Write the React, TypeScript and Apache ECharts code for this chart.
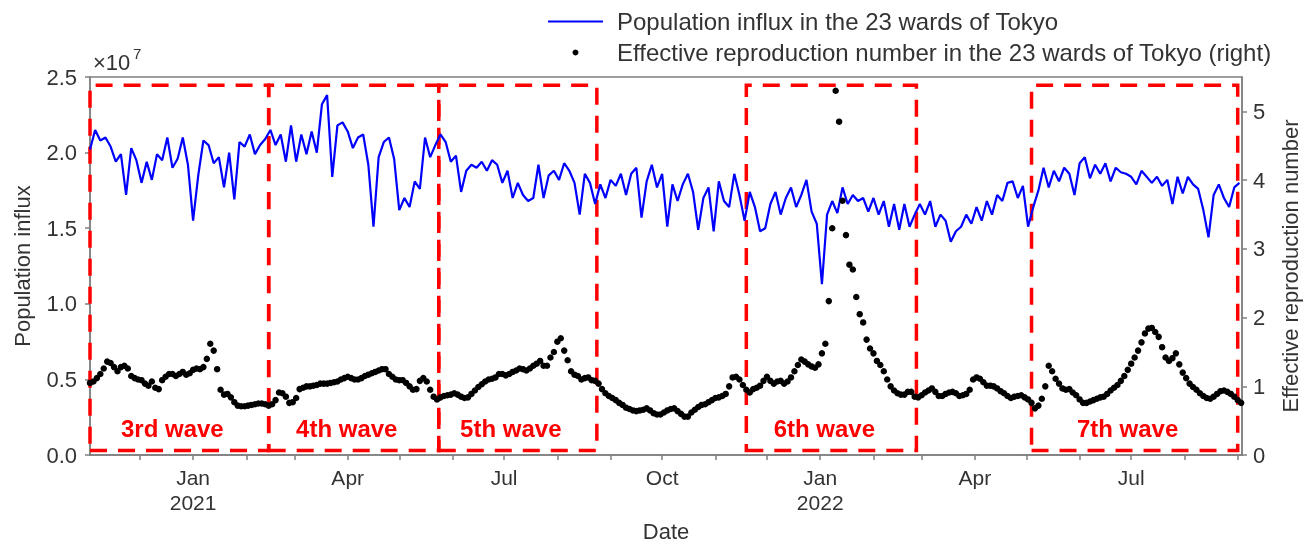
import React, { useEffect, useRef } from 'react';
import * as echarts from 'echarts';

const DAY = 86400000;
const utc = (s: string) => {
  const [y, m, d] = s.split('-').map(Number);
  return Date.UTC(y, m - 1, d);
};

// x-axis extent and series start
const AXIS_MIN = '2020-11-02';
const AXIS_MAX = '2022-09-03';
const SERIES_START = '2020-11-02';
const INFLUX_STEP_DAYS = 3;
const RT_STEP_DAYS = 2;

const influxName = 'Population influx in the 23 wards of Tokyo';
const rtName = 'Effective reproduction number in the 23 wards of Tokyo (right)';

// Population influx (x10^7), one value every 3 days
const influx = [
  2.02, 2.15, 2.08, 2.10, 2.04, 1.94, 1.99, 1.72, 2.03, 1.95,
  1.80, 1.94, 1.82, 1.99, 1.95, 2.10, 1.90, 1.96, 2.10, 1.92,
  1.55, 1.85, 2.08, 2.05, 1.93, 1.97, 1.77, 2.00, 1.69, 2.07,
  2.04, 2.12, 1.99, 2.05, 2.09, 2.15, 2.05, 2.12, 1.94, 2.18,
  1.94, 2.12, 1.99, 2.14, 2.00, 2.32, 2.38, 1.84, 2.18, 2.20,
  2.14, 2.03, 2.10, 2.12, 1.92, 1.51, 1.97, 2.07, 2.10, 1.96,
  1.62, 1.70, 1.64, 1.81, 1.76, 2.10, 1.97, 2.05, 2.12, 2.07,
  1.94, 1.98, 1.74, 1.88, 1.92, 1.90, 1.94, 1.88, 1.95, 1.92,
  1.80, 1.88, 1.70, 1.80, 1.72, 1.68, 1.70, 1.92, 1.70, 1.85,
  1.88, 1.82, 1.93, 1.88, 1.80, 1.59, 1.86, 1.80, 1.66, 1.79,
  1.70, 1.82, 1.78, 1.86, 1.72, 1.86, 1.90, 1.57, 1.81, 1.92,
  1.77, 1.86, 1.51, 1.79, 1.68, 1.79, 1.86, 1.74, 1.49, 1.70,
  1.77, 1.48, 1.81, 1.68, 1.64, 1.86, 1.72, 1.55, 1.74, 1.64,
  1.48, 1.50, 1.66, 1.74, 1.59, 1.70, 1.77, 1.64, 1.72, 1.82,
  1.61, 1.53, 1.13, 1.59, 1.68, 1.60, 1.77, 1.66, 1.72, 1.68,
  1.70, 1.61, 1.70, 1.59, 1.68, 1.51, 1.66, 1.49, 1.66, 1.51,
  1.59, 1.66, 1.59, 1.68, 1.51, 1.59, 1.55, 1.41, 1.48, 1.51,
  1.59, 1.53, 1.64, 1.55, 1.68, 1.59, 1.72, 1.68, 1.80, 1.81,
  1.70, 1.78, 1.51, 1.64, 1.75, 1.90, 1.77, 1.88, 1.81, 1.90,
  1.86, 1.72, 1.93, 1.97, 1.83, 1.92, 1.86, 1.93, 1.81, 1.90,
  1.87, 1.86, 1.84, 1.79, 1.88, 1.84, 1.80, 1.84, 1.78, 1.82,
  1.66, 1.84, 1.73, 1.84, 1.79, 1.76, 1.62, 1.44, 1.72, 1.79,
  1.70, 1.64, 1.77, 1.80,
];

// Effective reproduction number, one value every 2 days
const rt = [
  1.05, 1.07, 1.12, 1.18, 1.26, 1.36, 1.34, 1.28, 1.22, 1.28,
  1.30, 1.26, 1.15, 1.12, 1.10, 1.09, 1.04, 1.01, 1.07, 0.98,
  0.96, 1.09, 1.14, 1.18, 1.18, 1.15, 1.18, 1.21, 1.17, 1.19,
  1.24, 1.26, 1.25, 1.28, 1.40, 1.62, 1.52, 1.25, 0.95, 0.88,
  0.89, 0.84, 0.77, 0.72, 0.71, 0.71, 0.72, 0.73, 0.74, 0.75,
  0.75, 0.74, 0.72, 0.74, 0.80, 0.91, 0.90, 0.85, 0.76, 0.77,
  0.83, 0.96, 0.98, 1.00, 1.00, 1.01, 1.02, 1.04, 1.04, 1.04,
  1.05, 1.06, 1.07, 1.10, 1.12, 1.14, 1.12, 1.10, 1.10, 1.12,
  1.15, 1.17, 1.19, 1.21, 1.23, 1.25, 1.25, 1.18, 1.14, 1.10,
  1.09, 1.09, 1.05, 1.00, 0.95, 0.96, 1.08, 1.12, 1.07, 0.95,
  0.85, 0.81, 0.84, 0.86, 0.87, 0.88, 0.90, 0.88, 0.85, 0.83,
  0.84, 0.89, 0.94, 0.99, 1.03, 1.07, 1.10, 1.11, 1.13, 1.18,
  1.18, 1.16, 1.18, 1.21, 1.23, 1.26, 1.25, 1.23, 1.26, 1.30,
  1.33, 1.37, 1.30, 1.30, 1.42, 1.50, 1.65, 1.70, 1.52, 1.38,
  1.22, 1.17, 1.15, 1.10, 1.12, 1.13, 1.09, 1.08, 1.04, 0.96,
  0.90, 0.86, 0.83, 0.80, 0.76, 0.73, 0.69, 0.67, 0.65, 0.64,
  0.65, 0.66, 0.68, 0.65, 0.61, 0.59, 0.59, 0.62, 0.65, 0.67,
  0.68, 0.64, 0.60, 0.56, 0.56, 0.62, 0.66, 0.70, 0.73, 0.74,
  0.77, 0.80, 0.83, 0.84, 0.86, 0.89, 1.00, 1.13, 1.14, 1.10,
  1.02, 0.95, 0.91, 0.96, 0.98, 1.01, 1.08, 1.14, 1.08, 1.04,
  1.07, 1.08, 1.04, 1.07, 1.13, 1.22, 1.31, 1.39, 1.36, 1.32,
  1.29, 1.27, 1.32, 1.48, 1.62, 2.24, 3.30, 5.30, 4.85, 3.70,
  3.20, 2.77, 2.70, 2.30, 2.05, 1.93, 1.68, 1.55, 1.48, 1.37,
  1.31, 1.22, 1.10, 1.00, 0.94, 0.90, 0.88, 0.88, 0.92, 0.92,
  0.85, 0.84, 0.87, 0.91, 0.94, 0.97, 0.92, 0.86, 0.86, 0.89,
  0.91, 0.92, 0.90, 0.86, 0.87, 0.89, 0.95, 1.10, 1.13, 1.11,
  1.06, 1.01, 1.01, 1.00, 0.97, 0.93, 0.90, 0.86, 0.83, 0.85,
  0.86, 0.87, 0.84, 0.81, 0.76, 0.68, 0.72, 0.82, 1.00, 1.30,
  1.22, 1.11, 1.04, 0.97, 0.95, 0.96, 0.91, 0.87, 0.81, 0.76,
  0.76, 0.78, 0.80, 0.82, 0.84, 0.85, 0.89, 0.94, 0.98, 1.02,
  1.08, 1.15, 1.24, 1.33, 1.42, 1.52, 1.64, 1.77, 1.84, 1.85,
  1.79, 1.72, 1.57, 1.42, 1.37, 1.41, 1.48, 1.32, 1.20, 1.12,
  1.04, 0.99, 0.95, 0.90, 0.86, 0.83, 0.82, 0.85, 0.89, 0.93,
  0.94, 0.92, 0.89, 0.85, 0.80, 0.76,
];

// wave periods (dashed boxes)
const waveNames = ['3rd wave', '4th wave', '5th wave', '6th wave', '7th wave'];
const waveStarts = ['2020-11-02', '2021-02-14', '2021-05-24', '2021-11-19', '2022-05-04'];
const waveEnds = ['2021-02-14', '2021-05-24', '2021-08-24', '2022-02-26', '2022-09-01'];
const waveBoxBottom = 0.03;
const waveBoxTop = 2.445;

// ticks
const monthTicks = [
  '2020-12-01', '2021-01-01', '2021-02-01', '2021-03-01', '2021-04-01', '2021-05-01',
  '2021-06-01', '2021-07-01', '2021-08-01', '2021-09-01', '2021-10-01', '2021-11-01',
  '2021-12-01', '2022-01-01', '2022-02-01', '2022-03-01', '2022-04-01', '2022-05-01',
  '2022-06-01', '2022-07-01', '2022-08-01', '2022-09-01',
];
const labelMonths = ['2021-01-01', '2021-04-01', '2021-07-01', '2021-10-01', '2022-01-01', '2022-04-01', '2022-07-01'];
const monthNames = ['Jan', 'Feb', 'Mar', 'Apr', 'May', 'Jun', 'Jul', 'Aug', 'Sep', 'Oct', 'Nov', 'Dec'];
const rightTicks = [0, 1, 2, 3, 4, 5];

const FONT = "'Liberation Sans', Arial, Helvetica, sans-serif";
const TEXT = '#333333';
const AXIS = '#7f7f7f';

export default function App() {
  const ref = useRef<HTMLDivElement>(null);
  useEffect(() => {
    if (!ref.current) return;
    const chart = echarts.init(ref.current, undefined, { renderer: 'svg' });
    const start = utc(SERIES_START);
    const influxData = influx.map((v, i) => [start + i * INFLUX_STEP_DAYS * DAY, v]);
    const rtData = rt.map((v, i) => [start + i * RT_STEP_DAYS * DAY, v]);
    const areas = waveNames.map((n, i) => [
      { name: n, xAxis: utc(waveStarts[i]), yAxis: waveBoxBottom },
      { xAxis: utc(waveEnds[i]), yAxis: waveBoxTop },
    ]);
    const axisLineStyle = { color: AXIS, width: 1.5 };
    chart.setOption({
      animation: false,
      textStyle: { fontFamily: FONT },
      grid: { left: 90, right: 67, top: 77, bottom: 90, show: true, borderColor: AXIS, borderWidth: 1.5 },
      legend: {
        orient: 'vertical',
        left: 548,
        top: 8,
        padding: 0,
        itemGap: 4,
        itemWidth: 55,
        itemHeight: 6,
        data: [
          { name: influxName, icon: 'path://M0,0 L55,0 L55,2.2 L0,2.2 Z', itemStyle: { color: '#0000ff' } },
          { name: rtName, icon: 'circle', itemStyle: { color: '#000000', opacity: 1 } },
        ],
        textStyle: { fontSize: 24, color: TEXT, lineHeight: 27, fontFamily: FONT, padding: [0, 0, 0, 9] },
      },
      graphic: [
        { type: 'text', left: 93, top: 51, style: { text: '×10', fontSize: 22, fill: TEXT, fontFamily: FONT } },
        { type: 'text', left: 133, top: 46, style: { text: '7', fontSize: 15, fill: TEXT, fontFamily: FONT } },
      ],
      xAxis: {
        type: 'value',
        min: utc(AXIS_MIN),
        max: utc(AXIS_MAX) + DAY / 2,
        name: 'Date',
        nameLocation: 'middle',
        nameGap: 55,
        nameTextStyle: { fontSize: 22, color: TEXT, fontFamily: FONT },
        axisLine: { show: true, onZero: false, lineStyle: axisLineStyle },
        axisTick: { show: true, length: 5, customValues: monthTicks.map(utc), lineStyle: axisLineStyle },
        axisLabel: {
          customValues: labelMonths.map(utc),
          formatter: (v: number) => {
            const d = new Date(v);
            const m = d.getUTCMonth();
            return m === 0 ? monthNames[m] + '\n' + d.getUTCFullYear() : monthNames[m];
          },
          fontSize: 21,
          lineHeight: 25,
          color: TEXT,
          margin: 10,
          fontFamily: FONT,
        },
        splitLine: { show: false },
      },
      yAxis: [
        {
          type: 'value',
          position: 'left',
          min: 0,
          max: 2.5,
          interval: 0.5,
          name: 'Population influx',
          nameLocation: 'middle',
          nameGap: 57,
          nameTextStyle: { fontSize: 22, color: TEXT, fontFamily: FONT },
          axisLine: { show: true, lineStyle: axisLineStyle },
          axisTick: { show: true, length: 5, lineStyle: axisLineStyle },
          axisLabel: { formatter: (v: number) => v.toFixed(1), fontSize: 22, color: TEXT, margin: 13, fontFamily: FONT },
          splitLine: { show: false },
        },
        {
          type: 'value',
          position: 'right',
          min: 0,
          max: 5.5,
          interval: 1,
          name: 'Effective reproduction number',
          nameLocation: 'middle',
          nameGap: 37,
          nameTextStyle: { fontSize: 22, color: TEXT, fontFamily: FONT },
          axisLine: { show: true, lineStyle: axisLineStyle },
          axisTick: { show: true, length: 5, customValues: rightTicks, lineStyle: axisLineStyle },
          axisLabel: { customValues: rightTicks, fontSize: 22, color: TEXT, margin: 11, fontFamily: FONT },
          splitLine: { show: false },
        },
      ],
      series: [
        {
          type: 'line',
          name: influxName,
          data: influxData,
          yAxisIndex: 0,
          symbol: 'none',
          showSymbol: false,
          lineStyle: { color: '#0000ff', width: 2.2 },
          itemStyle: { color: '#0000ff' },
          z: 2,
        },
        {
          type: 'scatter',
          name: rtName,
          data: rtData,
          yAxisIndex: 1,
          symbolSize: 6.5,
          itemStyle: { color: '#000000', opacity: 1 },
          z: 3,
        },
        {
          type: 'line',
          name: 'waves',
          data: [],
          yAxisIndex: 0,
          silent: true,
          z: 5,
          markArea: {
            silent: true,
            itemStyle: {
              color: 'rgba(0,0,0,0)',
              borderColor: '#ff0000',
              borderWidth: 3.5,
              borderType: [17, 11],
            },
            label: {
              show: true,
              position: 'insideBottom',
              distance: 12,
              offset: [-7, 0],
              color: '#ff0000',
              fontWeight: 'bold',
              fontSize: 24,
              fontFamily: FONT,
            },
            data: areas,
          },
        },
      ],
    });
    return () => chart.dispose();
  }, []);
  return <div ref={ref} style={{ position: 'fixed', left: 0, top: 0, width: 1309, height: 547 }} />;
}
